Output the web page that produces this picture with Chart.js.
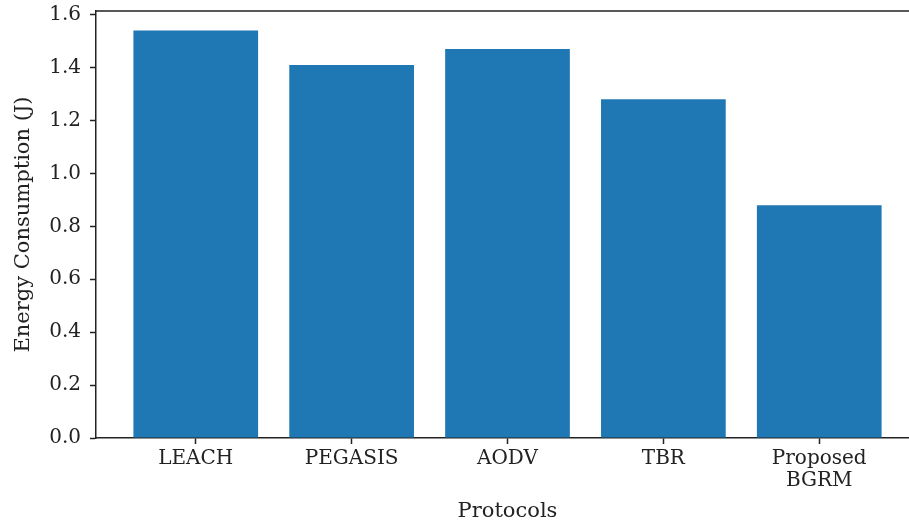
<!DOCTYPE html>
<html>
<head>
<meta charset="utf-8">
<script src="https://cdn.jsdelivr.net/npm/chart.js@4.4.0/dist/chart.umd.min.js"></script>
<style>
  html, body { margin: 0; padding: 0; background: #fff; overflow: hidden; }
  #wrap { position: absolute; left: 0; top: 0; width: 920px; height: 524px; }
</style>
</head>
<body>
<div id="wrap"><canvas id="energyChart" width="920" height="524"></canvas></div>
<script>
// protocols on the x axis and their energy use in joules
var protocols = [['LEACH'], ['PEGASIS'], ['AODV'], ['TBR'], ['Proposed', 'BGRM']];
var energy = [1.54, 1.41, 1.47, 1.28, 0.88];
var yTicks = [0, 0.2, 0.4, 0.6, 0.8, 1.0, 1.2, 1.4, 1.6];

var ink = '#222';
var serif = "'DejaVu Serif', 'Liberation Serif', serif";

// top and right frame lines (the scales only draw left and bottom)
var frame = {
  id: 'frame',
  afterDraw: function(chart) {
    var a = chart.chartArea, c = chart.ctx;
    c.save();
    c.strokeStyle = ink;
    c.lineWidth = 1.5;
    c.beginPath();
    c.moveTo(a.left, a.top);
    c.lineTo(a.right, a.top);
    c.lineTo(a.right, a.bottom);
    c.stroke();
    c.restore();
  }
};

var ctx = document.getElementById('energyChart');
var chart = new Chart(ctx, {
  type: 'bar',
  data: {
    datasets: [{
      data: energy.map(function(v, i) { return {x: i, y: v}; }),
      backgroundColor: '#1f77b4',
      borderWidth: 0,
      barPercentage: 0.8,
      categoryPercentage: 1.0
    }]
  },
  options: {
    responsive: false,
    animation: false,
    layout: { padding: { top: 11, right: 1, left: 0, bottom: 0 } },
    plugins: { legend: { display: false }, tooltip: { enabled: false } },
    scales: {
      x: {
        type: 'linear',
        offset: false,
        min: -0.64,
        max: 4.64,
        afterBuildTicks: function(axis) {
          axis.ticks = protocols.map(function(p, i) { return {value: i}; });
        },
        afterFit: function(scale) {
          scale.height = 86;
          scale.paddingLeft = 0;
          scale.paddingRight = 0;
        },
        grid: { offset: false, drawOnChartArea: false, drawTicks: true, tickLength: 6, tickColor: ink, tickWidth: 1.5 },
        border: { color: ink, width: 1.5 },
        ticks: {
          autoSkip: false,
          maxRotation: 0,
          padding: 4,
          color: ink,
          font: { family: serif, size: 20, lineHeight: 1.1 },
          callback: function(v) { return protocols[v]; }
        },
        title: {
          display: true,
          text: 'Protocols',
          color: ink,
          font: { family: serif, size: 21 },
          padding: { top: 4, bottom: 0 }
        }
      },
      y: {
        min: 0,
        max: 1.614,
        afterBuildTicks: function(axis) {
          axis.ticks = yTicks.map(function(t) { return {value: t}; });
        },
        afterFit: function(scale) {
          scale.width = 96;
          scale.paddingTop = 0;
          scale.paddingBottom = 0;
        },
        grid: { drawOnChartArea: false, drawTicks: true, tickLength: 6, tickColor: ink, tickWidth: 1.5 },
        border: { color: ink, width: 1.5 },
        ticks: {
          padding: 9,
          color: ink,
          font: { family: serif, size: 20 },
          callback: function(v) { return v.toFixed(1); }
        },
        title: {
          display: true,
          text: 'Energy Consumption (J)',
          color: ink,
          font: { family: serif, size: 21 },
          padding: { top: 11, bottom: 0 }
        }
      }
    }
  },
  plugins: [frame]
});
</script>
</body>
</html>
